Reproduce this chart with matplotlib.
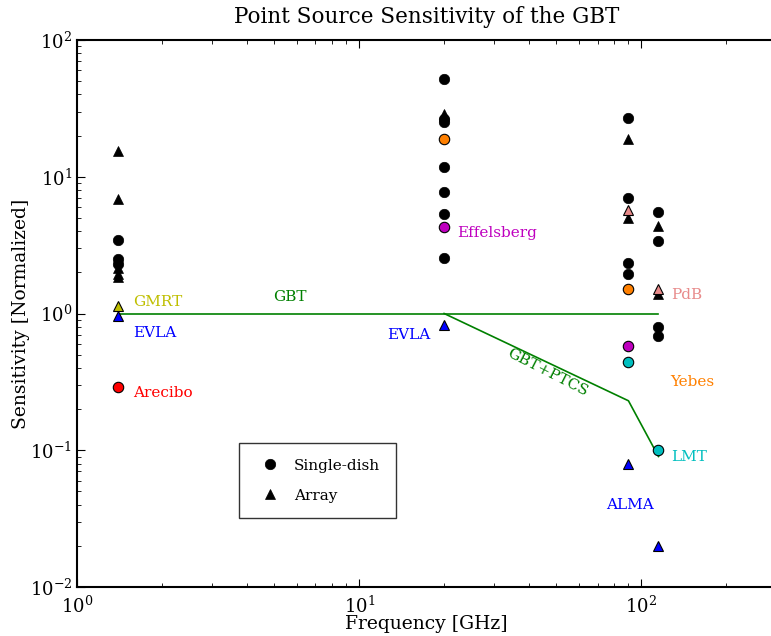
import matplotlib
matplotlib.use('Agg')
import matplotlib.pyplot as plt

plt.rcParams['font.family'] = 'DejaVu Serif'
plt.rcParams['mathtext.fontset'] = 'dejavuserif'

# black single-dish points (GHz, normalized sensitivity)
dish_freq = [1.4, 1.4, 1.4,
             20, 20, 20, 20, 20, 20, 20,
             90, 90, 90, 90,
             115, 115, 115, 115]
dish_sens = [3.45, 2.5, 2.3,
             52, 26.5, 25, 11.8, 7.7, 5.3, 2.55,
             27, 7.0, 2.35, 1.95,
             5.55, 3.4, 0.8, 0.69]

# black array points
arr_freq = [1.4, 1.4, 1.4, 1.4, 1.4, 20, 90, 90, 115, 115]
arr_sens = [15.5, 6.9, 2.15, 1.95, 1.85, 29, 19, 5.0, 4.35, 1.4]

# coloured, named telescopes
named = ['GMRT', 'EVLA', 'Arecibo', 'Effelsberg', 'EVLA', 'ALMA', 'ALMA',
         'PdB', 'PdB', 'Yebes', 'Yebes', 'LMT', 'LMT', 'Effelsberg']
named_freq = [1.4, 1.4, 1.4, 20, 20, 90, 115,
              90, 115, 20, 90, 90, 115, 90]
named_sens = [1.13, 0.96, 0.29, 4.3, 0.82, 0.079, 0.02,
              5.7, 1.5, 19, 1.52, 0.44, 0.1, 0.58]
named_marker = ['^', '^', 'o', 'o', '^', '^', '^',
                '^', '^', 'o', 'o', 'o', 'o', 'o']
named_color = ['#bfbf00', 'b', 'r', '#bf00bf', 'b', 'b', 'b',
               '#e88a8a', '#e88a8a', '#ff8000', '#ff8000', '#00bfbf', '#00bfbf', '#bf00bf']

# label positions (GHz, sensitivity) and colours
lab_text = ['GMRT', 'EVLA', 'Arecibo', 'Effelsberg', 'EVLA', 'PdB', 'Yebes', 'LMT', 'ALMA']
lab_freq = [1.58, 1.58, 1.58, 22.2, 12.6, 127, 127, 127, 75]
lab_sens = [1.22, 0.72, 0.264, 3.9, 0.70, 1.37, 0.317, 0.09, 0.0398]
lab_color = ['#bfbf00', 'b', 'r', '#bf00bf', 'b', '#e88a8a', '#ff8000', '#00bfbf', 'b']

gbt_freq = [1.4, 115]
gbt_sens = [1.0, 1.0]
ptcs_freq = [20, 90, 115]
ptcs_sens = [1.0, 0.23, 0.09]

fig = plt.figure(figsize=(7.71, 6.36), dpi=100)
ax = fig.add_axes([77/771, 49/636, 699/771, 547/636])

ax.plot(gbt_freq, gbt_sens, color='g', lw=1.2)
ax.plot(ptcs_freq, ptcs_sens, color='g', lw=1.2)

ax.plot(dish_freq, dish_sens, 'o', color='k', ms=7.5, mec='k', mew=0.5, label='Single-dish')
ax.plot(arr_freq, arr_sens, '^', color='k', ms=7.5, mec='k', mew=0.5, label='Array')
for f, s, m, c in zip(named_freq, named_sens, named_marker, named_color):
    ax.plot(f, s, m, color=c, ms=7.5, mec='k', mew=0.8)

for t, f, s, c in zip(lab_text, lab_freq, lab_sens, lab_color):
    ax.text(f, s, t, color=c, fontsize=11, ha='left', va='center')

ax.text(5.69, 1.32, 'GBT', color='g', fontsize=11, ha='center', va='center')
ax.text(46.4, 0.373, 'GBT+PTCS', color='g', fontsize=11, ha='center', va='center', rotation=-27)

ax.set_xscale('log')
ax.set_yscale('log')
ax.set_xlim(1, 300)
ax.set_ylim(0.01, 100)
ax.tick_params(which='both', direction='in', top=True, right=False, labelsize=13)
ax.tick_params(which='major', length=6)
ax.tick_params(which='minor', length=3)
ax.tick_params(axis='x', pad=6)
for sp in ax.spines.values():
    sp.set_linewidth(1.5)

ax.set_title('Point Source Sensitivity of the GBT', fontsize=15.5, pad=12)
ax.set_xlabel('Frequency [GHz]', fontsize=13.5, labelpad=-1)
ax.set_ylabel('Sensitivity [Normalized]', fontsize=13.5, labelpad=0)

leg = ax.legend(loc='lower left', bbox_to_anchor=(0.232, 0.126), numpoints=1,
                fontsize=11, frameon=True, fancybox=False, borderaxespad=0,
                borderpad=1.0, handletextpad=0.6, labelspacing=1.05)
leg.get_frame().set_edgecolor('k')
leg.get_frame().set_linewidth(1.0)

fig.savefig('out.png', dpi=100)
